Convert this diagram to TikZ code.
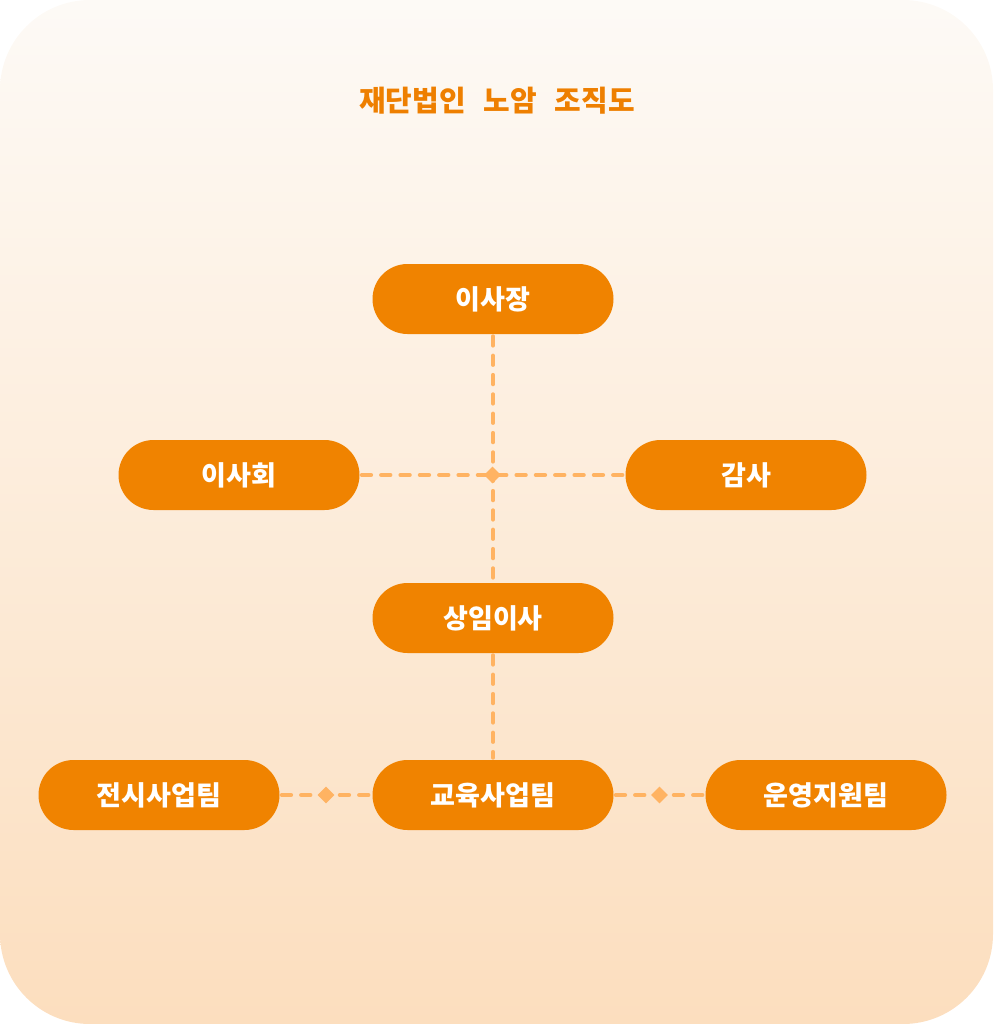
\documentclass[tikz,border=0pt]{standalone}
\usepackage{fontspec}
\newfontfamily\kr{Noto Sans CJK KR}
\newfontfamily\krtitle[WordSpace=2.7]{Noto Sans CJK KR}
\usetikzlibrary{calc, shapes.geometric}
\definecolor{orgbox}{HTML}{F08300}
\definecolor{orgtitle}{HTML}{EE7F00}
\definecolor{orgline}{HTML}{FFB362}
\definecolor{bgtop}{HTML}{FDFAF6}
\definecolor{bgbot}{HTML}{FCDEBE}
\tikzset{
  unit/.style={fill=orgbox, text=white, rounded corners=26.25pt, minimum width=180.75pt, minimum height=52.5pt, inner sep=0pt, font=\kr\bfseries\fontsize{20.3}{24}\selectfont},
  link/.style={orgline, line width=3pt, line cap=round, dash pattern=on 7pt off 7.5pt, shorten <=1.5pt, shorten >=1.5pt},
  joint/.style={diamond, fill=orgline, inner sep=0pt, minimum size=12.75pt},
}
\begin{document}
\begin{tikzpicture}[x=0.75pt,y=-0.75pt]
\shade[top color=bgtop, bottom color=bgbot, rounded corners=67.5pt] (0,0) rectangle (993,1024);
\node[text=orgtitle, font=\krtitle\bfseries\fontsize{21.7}{26}\selectfont] (title) at (497,101) {재단법인 노암 조직도};
\node[unit] (chair) at (493,299) {이사장};
\node[unit] (board) at (239,475) {이사회};
\node[unit] (audit) at (746,475) {감사};
\node[unit] (exec) at (493,618) {상임이사};
\node[unit] (exhib) at (159,795) {전시사업팀};
\node[unit] (edu) at (493,795) {교육사업팀};
\node[unit] (ops) at (826,795) {운영지원팀};
\draw[link] (chair) -- (exec);
\draw[link] (board) -- (audit);
\draw[link] (exec) -- (edu);
\foreach \a/\b in {exhib/edu, edu/ops}
  \draw[link] (\a) -- (\b);
\node[joint] (jtop) at ($(board.east)!0.5!(audit.west)$) {};
\node[joint] (jleft) at ($(exhib.east)!0.5!(edu.west)$) {};
\node[joint] (jright) at ($(edu.east)!0.5!(ops.west)$) {};
\end{tikzpicture}
\end{document}
